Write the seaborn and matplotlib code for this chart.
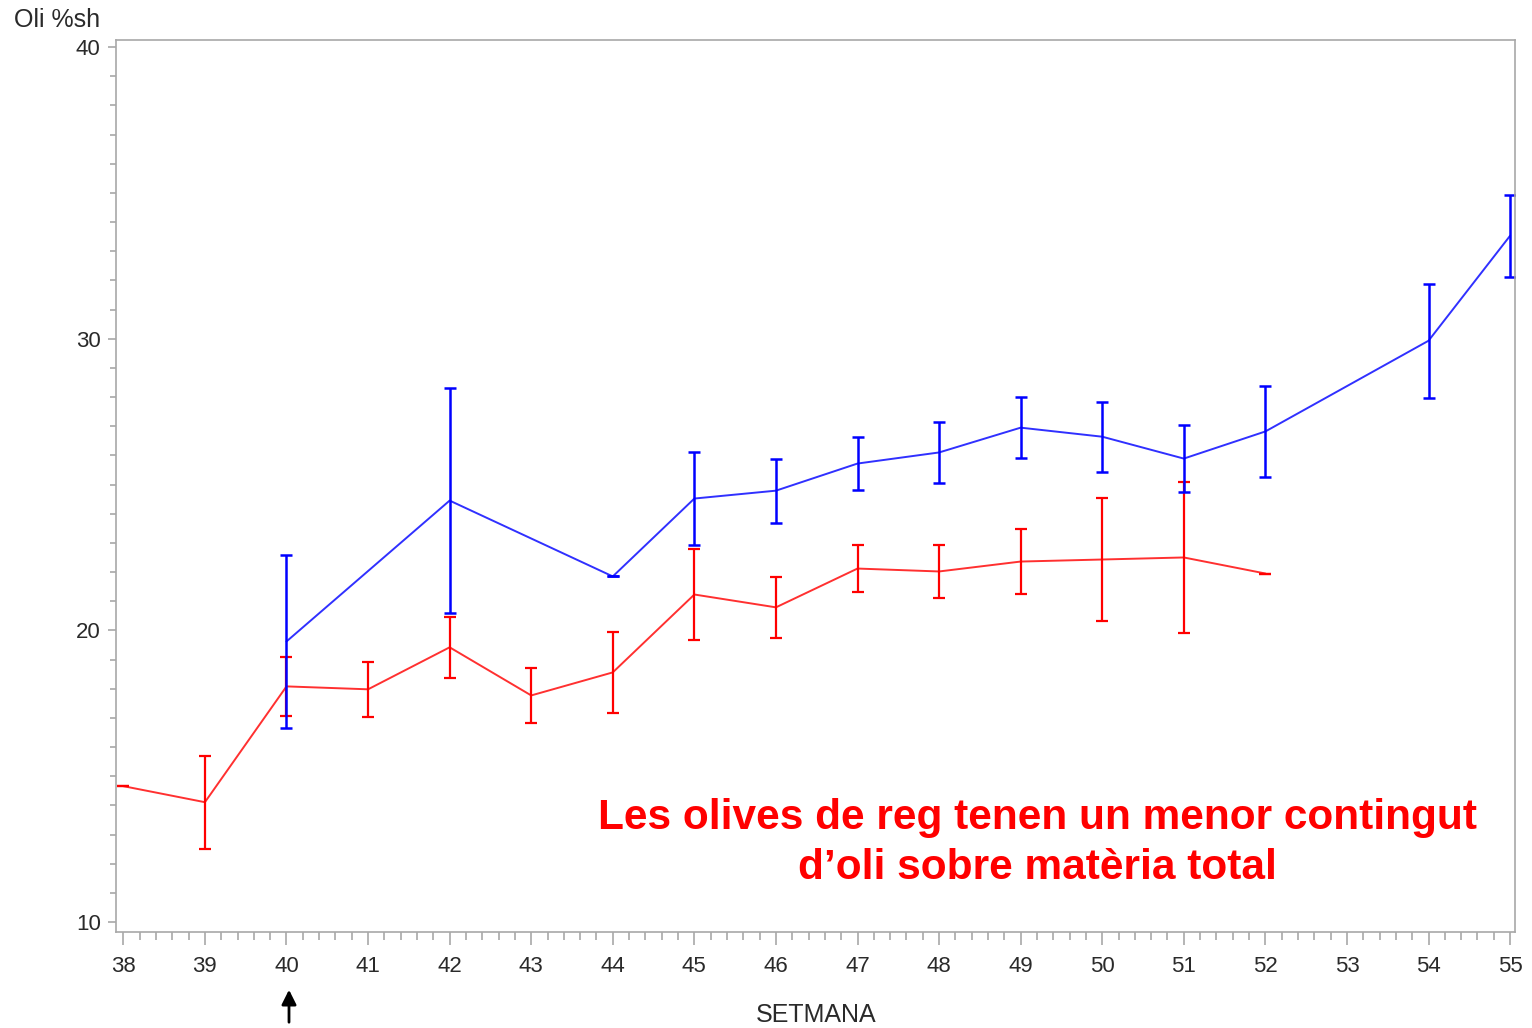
import matplotlib
matplotlib.use("Agg")
import matplotlib.pyplot as plt
from matplotlib.ticker import MultipleLocator
import seaborn as sns
import pandas as pd

# ---- data ----
red_weeks = [38, 39, 40, 41, 42, 43, 44, 45, 46, 47, 48, 49, 50, 51, 52]
red_vals = [14.66, 14.11, 18.08, 17.98, 19.42, 17.77, 18.56, 21.23, 20.79, 22.12, 22.02, 22.36, 22.43, 22.50, 21.95]
red_err = [0.0, 1.6, 1.0, 0.95, 1.05, 0.95, 1.4, 1.55, 1.05, 0.8, 0.9, 1.1, 2.1, 2.6, 0.0]

blue_weeks = [40, 42, 44, 45, 46, 47, 48, 49, 50, 51, 52, 54, 55]
blue_vals = [19.62, 24.45, 21.85, 24.52, 24.79, 25.72, 26.10, 26.95, 26.64, 25.89, 26.82, 29.93, 33.53]
blue_err = [2.95, 3.85, 0.0, 1.6, 1.1, 0.9, 1.05, 1.05, 1.2, 1.15, 1.55, 1.95, 1.4]

x_ticks = list(range(38, 56))
y_ticks = [10, 20, 30, 40]
y_label = "Oli %sh"
x_label = "SETMANA"
note = "Les olives de reg tenen un menor contingut\nd\u2019oli sobre mat\u00e8ria total"

sns.set_theme(style="white")
plt.rcParams['font.family'] = ['Liberation Sans', 'DejaVu Sans']

fig = plt.figure(figsize=(15.32, 10.28), dpi=100)
ax = fig.add_axes([116/1532, 1 - 932/1028, (1515 - 116)/1532, (932 - 40)/1028])

red_df = pd.DataFrame({"week": red_weeks, "val": red_vals})
blue_df = pd.DataFrame({"week": blue_weeks, "val": blue_vals})

sns.lineplot(data=red_df, x="week", y="val", ax=ax, color="#ff3030", linewidth=1.4)
sns.lineplot(data=blue_df, x="week", y="val", ax=ax, color="#3030ff", linewidth=1.4)

ax.errorbar(red_weeks, red_vals, yerr=red_err, fmt="none", ecolor="#ff0000",
            elinewidth=1.6, capsize=4.5, capthick=1.6)
ax.errorbar(blue_weeks, blue_vals, yerr=blue_err, fmt="none", ecolor="#0000ff",
            elinewidth=1.8, capsize=4.5, capthick=1.8)

ax.set_xlim(37.91, 55.06)
ax.set_ylim(9.66, 40.24)
ax.set_xticks(x_ticks)
ax.set_yticks(y_ticks)
ax.xaxis.set_minor_locator(MultipleLocator(0.2))
ax.yaxis.set_minor_locator(MultipleLocator(1))

spine_col = "#a8a8a8"
for s in ax.spines.values():
    s.set_color(spine_col)
    s.set_linewidth(1.2)
    s.set_visible(True)

lab_col = "#2a2a2a"
ax.tick_params(axis="x", which="major", direction="out", length=9, width=1.2,
               color=spine_col, labelsize=16, labelcolor=lab_col, pad=8, bottom=True)
ax.tick_params(axis="x", which="minor", direction="out", length=5.5, width=1.2,
               color=spine_col, bottom=True)
ax.tick_params(axis="y", which="major", direction="out", length=6, width=1.2,
               color=spine_col, labelsize=16, labelcolor=lab_col, pad=5, left=True)
ax.tick_params(axis="y", which="minor", direction="out", length=4, width=1.2,
               color=spine_col, left=True)

ax.set_xlabel("")
ax.set_ylabel("")
fig.text(14/1532, 1 - 20/1028, y_label, fontsize=18, color=lab_col,
         ha="left", va="center")
fig.text(816/1532, 1 - 1015/1028, x_label, fontsize=18, color=lab_col,
         ha="center", va="center")

ax.text(1037/1532, 1 - 843/1028, note, transform=fig.transFigure, fontsize=30.5,
        fontweight="bold", color="#ff0000", ha="center", va="center",
        linespacing=1.3)

fig.patches.append(matplotlib.patches.FancyArrowPatch(
    (289/1532, 1 - 1025/1028), (289/1532, 1 - 987/1028),
    transform=fig.transFigure, arrowstyle="-|>", mutation_scale=22,
    color="black", linewidth=2))

fig.savefig("out.png", dpi=100, facecolor="white")
